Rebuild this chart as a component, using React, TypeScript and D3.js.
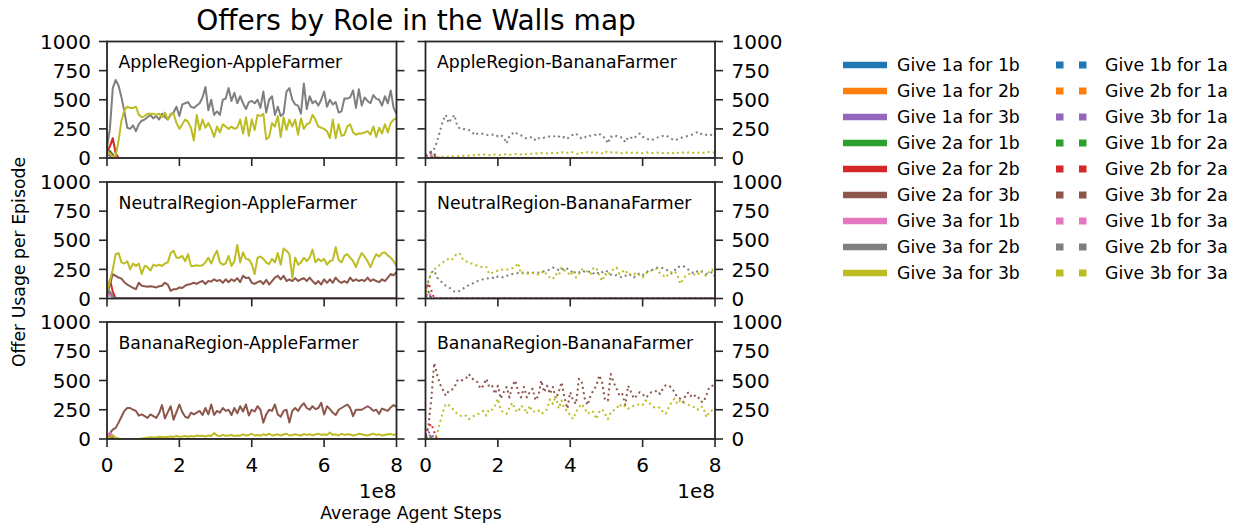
import React from "react";
import * as d3 from "d3";

// ---------------- DATA ----------------
const N = 101;
const STEP = 8e6;
const agentSteps = d3.range(N).map((i) => i * STEP);

const xTicks = [0, 2e8, 4e8, 6e8, 8e8];
const xTickLabels = ["0", "2", "4", "6", "8"];
const yTicks = [0, 250, 500, 750, 1000];

const solidNames = [
  "Give 1a for 1b", "Give 1a for 2b", "Give 1a for 3b",
  "Give 2a for 1b", "Give 2a for 2b", "Give 2a for 3b",
  "Give 3a for 1b", "Give 3a for 2b", "Give 3a for 3b",
];
const dottedNames = [
  "Give 1b for 1a", "Give 2b for 1a", "Give 3b for 1a",
  "Give 1b for 2a", "Give 2b for 2a", "Give 3b for 2a",
  "Give 1b for 3a", "Give 2b for 3a", "Give 3b for 3a",
];
const colors = ["#1f77b4", "#ff7f0e", "#9467bd", "#2ca02c", "#d62728", "#8c564b", "#e377c2", "#7f7f7f", "#bcbd22"];

// AppleRegion-AppleFarmer
const aaGive3aFor2b = [90, 250, 600, 670, 620, 520, 400, 260, 250, 280, 230, 290, 320, 330, 350, 370, 340, 360, 330, 380, 350, 330, 370, 390, 440, 360, 460, 470, 480, 440, 430, 450, 470, 520, 610, 410, 500, 370, 400, 370, 500, 510, 600, 490, 560, 470, 530, 470, 420, 480, 490, 470, 500, 430, 570, 390, 500, 530, 370, 440, 360, 380, 570, 600, 500, 460, 450, 380, 640, 420, 530, 470, 490, 450, 500, 570, 440, 500, 460, 480, 390, 400, 510, 510, 520, 580, 430, 590, 450, 520, 490, 470, 540, 510, 500, 450, 530, 470, 580, 430, 380];
const aaGive3aFor3b = [50, 40, 10, 20, 150, 320, 410, 440, 430, 430, 440, 370, 350, 360, 380, 380, 380, 370, 380, 350, 390, 330, 380, 380, 300, 250, 290, 330, 310, 260, 150, 370, 240, 330, 260, 300, 250, 180, 270, 220, 290, 270, 250, 270, 250, 260, 330, 210, 350, 190, 330, 240, 370, 360, 380, 160, 180, 300, 270, 360, 180, 350, 240, 330, 270, 330, 200, 340, 250, 290, 300, 370, 330, 270, 260, 250, 230, 170, 330, 170, 290, 190, 200, 270, 290, 220, 200, 210, 210, 220, 230, 200, 270, 180, 260, 210, 290, 220, 300, 330, 340];
const aaGive1aFor1b = [30, 20, 0];
const aaGive1aFor2b = [40, 30, 10, 0];
const aaGive1aFor3b = [50, 40, 20, 0];
const aaGive2aFor1b = [80, 60, 30, 0];
const aaGive2aFor2b = [60, 100, 170, 40, 0];
const aaGive2aFor3b = [40, 50, 20, 0];
const aaGive3aFor1b = [50, 30, 10, 0];

// AppleRegion-BananaFarmer
const abGive2bFor3a = [20, 30, 40, 80, 140, 230, 320, 370, 300, 340, 370, 270, 250, 250, 250, 240, 225, 195, 210, 205, 210, 200, 195, 200, 205, 185, 195, 180, 125, 190, 210, 225, 200, 195, 180, 165, 175, 180, 150, 170, 165, 175, 180, 185, 180, 195, 185, 170, 180, 165, 190, 200, 210, 185, 165, 175, 195, 190, 195, 200, 210, 180, 175, 125, 185, 175, 190, 180, 175, 135, 180, 175, 165, 195, 210, 180, 175, 160, 150, 165, 175, 180, 190, 195, 180, 165, 150, 160, 170, 180, 185, 195, 200, 210, 225, 210, 195, 200, 205, 195, 200];
const abGive3bFor3a = [0, 0, 0, 0, 5, 8, 10, 12, 10, 15, 12, 15, 18, 20, 15, 22, 20, 25, 30, 25, 28, 30, 25, 22, 30, 28, 25, 30, 32, 28, 30, 35, 32, 30, 35, 32, 38, 35, 40, 35, 42, 38, 40, 45, 42, 48, 40, 50, 42, 45, 55, 48, 40, 30, 45, 40, 50, 42, 55, 45, 48, 40, 60, 45, 50, 42, 48, 45, 40, 50, 45, 42, 50, 45, 48, 40, 45, 50, 42, 40, 45, 50, 42, 45, 40, 48, 35, 45, 42, 48, 40, 50, 45, 42, 48, 40, 45, 55, 50, 45, 50];
const abGive1bFor1a = [10, 20, 15, 5, 0];
const abGive2bFor1a = [10, 25, 20, 5, 0];
const abGive3bFor1a = [20, 45, 55, 30, 5, 0];
const abGive1bFor2a = [10, 20, 15, 0];
const abGive2bFor2a = [10, 30, 40, 20, 0];
const abGive3bFor2a = [15, 35, 50, 35, 10, 0];
const abGive1bFor3a = [10, 25, 20, 5, 0];

// NeutralRegion-AppleFarmer
const naGive3aFor3b = [60, 150, 250, 380, 390, 310, 300, 320, 250, 300, 280, 300, 210, 280, 270, 240, 290, 280, 290, 280, 300, 310, 390, 410, 350, 350, 365, 320, 380, 280, 280, 285, 280, 285, 310, 350, 300, 365, 410, 310, 290, 300, 365, 280, 320, 460, 310, 395, 340, 335, 295, 210, 350, 360, 340, 310, 295, 340, 310, 390, 290, 430, 410, 380, 180, 350, 290, 310, 350, 320, 350, 420, 310, 340, 320, 340, 290, 320, 330, 440, 330, 310, 365, 380, 350, 320, 270, 340, 390, 360, 320, 270, 330, 380, 360, 390, 395, 370, 350, 320, 280];
const naGive2aFor3b = [30, 120, 210, 195, 180, 170, 140, 120, 105, 90, 80, 135, 110, 105, 100, 105, 100, 95, 105, 110, 135, 120, 66, 80, 80, 95, 90, 110, 120, 125, 135, 125, 140, 150, 125, 150, 145, 165, 150, 160, 135, 165, 140, 165, 150, 175, 140, 195, 175, 180, 135, 125, 140, 150, 125, 160, 120, 150, 180, 195, 165, 195, 150, 165, 150, 175, 150, 165, 175, 150, 180, 150, 125, 150, 120, 165, 135, 165, 135, 180, 150, 135, 150, 135, 180, 150, 165, 150, 160, 150, 180, 150, 165, 150, 140, 165, 150, 180, 210, 200, 225];
const naGive1aFor1b = [20, 30, 10, 0];
const naGive1aFor2b = [30, 40, 10, 0];
const naGive1aFor3b = [60, 40, 10, 0];
const naGive2aFor1b = [30, 50, 20, 0];
const naGive2aFor2b = [40, 160, 60, 0];
const naGive3aFor1b = [40, 30, 10, 0];
const naGive3aFor2b = [80, 60, 20, 0];

// NeutralRegion-BananaFarmer
const nbGive3bFor3a = [40, 150, 220, 250, 270, 290, 310, 330, 340, 330, 360, 390, 380, 330, 320, 305, 300, 290, 280, 275, 265, 270, 210, 220, 230, 240, 250, 245, 250, 250, 260, 270, 305, 210, 220, 215, 208, 220, 215, 205, 220, 237, 200, 180, 165, 210, 195, 266, 240, 230, 195, 240, 180, 210, 250, 245, 230, 210, 260, 265, 200, 150, 210, 195, 240, 250, 266, 210, 230, 245, 200, 215, 210, 220, 200, 180, 215, 230, 240, 250, 255, 215, 200, 180, 215, 225, 237, 200, 125, 165, 200, 210, 215, 205, 200, 240, 210, 195, 230, 250, 180];
const nbGive2bFor3a = [50, 150, 220, 240, 180, 155, 130, 110, 95, 80, 60, 55, 70, 85, 105, 115, 125, 140, 150, 160, 165, 170, 175, 180, 170, 190, 185, 180, 195, 200, 210, 215, 220, 225, 220, 222, 225, 220, 225, 222, 225, 235, 240, 250, 265, 255, 245, 240, 265, 255, 245, 210, 235, 225, 240, 230, 225, 235, 215, 230, 210, 225, 240, 230, 205, 195, 200, 190, 180, 195, 210, 200, 180, 205, 215, 200, 220, 235, 240, 255, 265, 270, 260, 250, 235, 215, 240, 270, 275, 280, 260, 245, 225, 215, 235, 240, 225, 210, 215, 225, 220];
const nbGive1bFor1a = [10, 20, 0];
const nbGive2bFor1a = [20, 40, 10, 0];
const nbGive3bFor1a = [30, 50, 20, 0];
const nbGive1bFor2a = [20, 60, 0];
const nbGive2bFor2a = [60, 130, 70, 0];
const nbGive3bFor2a = [30, 40, 10, 0];
const nbGive1bFor3a = [30, 50, 20, 0];

// BananaRegion-AppleFarmer
const baGive2aFor3b = [10, 50, 80, 95, 140, 190, 240, 265, 265, 250, 240, 200, 210, 195, 180, 210, 195, 180, 220, 290, 175, 230, 280, 165, 230, 295, 230, 190, 180, 225, 210, 225, 240, 205, 265, 210, 295, 205, 240, 225, 265, 240, 250, 205, 265, 220, 280, 235, 295, 200, 250, 235, 280, 250, 140, 210, 250, 240, 295, 210, 190, 240, 250, 140, 240, 265, 240, 280, 305, 265, 250, 280, 255, 265, 310, 210, 280, 255, 225, 205, 250, 265, 280, 295, 265, 195, 250, 250, 250, 265, 280, 265, 240, 250, 215, 260, 250, 240, 270, 290, 275];
const baGive3aFor3b = [10, 20, 30, 10, 5, 0, 0, 0, 0, 0, 0, 0, 5, 8, 10, 15, 12, 15, 20, 18, 15, 20, 22, 18, 25, 20, 22, 25, 20, 25, 22, 30, 25, 28, 22, 30, 25, 50, 30, 25, 35, 28, 30, 35, 25, 30, 28, 40, 30, 35, 45, 30, 35, 28, 40, 32, 45, 30, 35, 40, 30, 38, 45, 30, 35, 40, 35, 30, 42, 35, 40, 32, 38, 45, 35, 40, 35, 55, 35, 40, 30, 45, 35, 40, 38, 30, 35, 45, 40, 35, 30, 38, 45, 35, 40, 30, 35, 40, 42, 35, 40];
const baGive1aFor1b = [10, 20, 10, 0];
const baGive1aFor2b = [10, 30, 20, 0];
const baGive1aFor3b = [15, 45, 25, 0];
const baGive2aFor1b = [10, 20, 10, 0];
const baGive2aFor2b = [10, 25, 10, 0];
const baGive3aFor1b = [20, 50, 30, 0];
const baGive3aFor2b = [10, 15, 5, 0];

// BananaRegion-BananaFarmer
const bbGive3bFor2a = [30, 110, 340, 650, 550, 470, 420, 370, 410, 420, 440, 500, 490, 510, 520, 555, 520, 500, 485, 430, 455, 515, 445, 455, 385, 455, 345, 400, 445, 355, 455, 500, 400, 355, 445, 355, 400, 430, 330, 370, 500, 400, 455, 385, 445, 345, 400, 485, 355, 260, 400, 330, 300, 515, 485, 345, 290, 370, 415, 455, 545, 485, 330, 330, 555, 485, 430, 370, 385, 290, 455, 400, 345, 370, 400, 385, 355, 370, 400, 400, 415, 385, 430, 460, 455, 440, 400, 355, 345, 315, 385, 400, 355, 370, 370, 320, 315, 370, 440, 455, 460];
const bbGive3bFor3a = [0, 0, 0, 10, 40, 140, 230, 300, 290, 270, 240, 215, 200, 190, 200, 170, 190, 200, 210, 225, 240, 200, 255, 250, 285, 345, 245, 230, 215, 270, 310, 250, 230, 285, 270, 215, 285, 230, 240, 245, 215, 230, 255, 340, 300, 370, 260, 330, 255, 245, 200, 170, 230, 270, 300, 260, 215, 240, 230, 170, 230, 255, 215, 170, 230, 245, 260, 300, 270, 285, 260, 270, 285, 290, 300, 290, 330, 315, 290, 270, 265, 270, 230, 215, 270, 315, 345, 300, 330, 315, 300, 290, 280, 270, 250, 280, 270, 185, 230, 245, 220];
const bbGive1bFor1a = [10, 20, 10, 0];
const bbGive2bFor1a = [20, 40, 20, 0];
const bbGive3bFor1a = [20, 60, 40, 10, 0];
const bbGive1bFor2a = [10, 30, 10, 0];
const bbGive2bFor2a = [30, 100, 130, 60, 0];
const bbGive1bFor3a = [10, 40, 20, 0];
const bbGive2bFor3a = [10, 30, 20, 0];

// ---------------- HELPERS ----------------
// Short arrays hold the early part of a series; the rest of the series is 0.
const full = (a: number[]) => a.concat(new Array(Math.max(0, N - a.length)).fill(0));

const panels = [
  { title: "AppleRegion-AppleFarmer", row: 0, col: 0, dotted: false,
    series: [aaGive1aFor1b, aaGive1aFor2b, aaGive1aFor3b, aaGive2aFor1b, aaGive2aFor2b, aaGive2aFor3b, aaGive3aFor1b, aaGive3aFor2b, aaGive3aFor3b] },
  { title: "AppleRegion-BananaFarmer", row: 0, col: 1, dotted: true,
    series: [abGive1bFor1a, abGive2bFor1a, abGive3bFor1a, abGive1bFor2a, abGive2bFor2a, abGive3bFor2a, abGive1bFor3a, abGive2bFor3a, abGive3bFor3a] },
  { title: "NeutralRegion-AppleFarmer", row: 1, col: 0, dotted: false,
    series: [naGive1aFor1b, naGive1aFor2b, naGive1aFor3b, naGive2aFor1b, naGive2aFor2b, naGive2aFor3b, naGive3aFor1b, naGive3aFor2b, naGive3aFor3b] },
  { title: "NeutralRegion-BananaFarmer", row: 1, col: 1, dotted: true,
    series: [nbGive1bFor1a, nbGive2bFor1a, nbGive3bFor1a, nbGive1bFor2a, nbGive2bFor2a, nbGive3bFor2a, nbGive1bFor3a, nbGive2bFor3a, nbGive3bFor3a] },
  { title: "BananaRegion-AppleFarmer", row: 2, col: 0, dotted: false,
    series: [baGive1aFor1b, baGive1aFor2b, baGive1aFor3b, baGive2aFor1b, baGive2aFor2b, baGive2aFor3b, baGive3aFor1b, baGive3aFor2b, baGive3aFor3b] },
  { title: "BananaRegion-BananaFarmer", row: 2, col: 1, dotted: true,
    series: [bbGive1bFor1a, bbGive2bFor1a, bbGive3bFor1a, bbGive1bFor2a, bbGive2bFor2a, bbGive3bFor2a, bbGive1bFor3a, bbGive2bFor3a, bbGive3bFor3a] },
];

// ---------------- LAYOUT ----------------
const W = 1240, H = 528;
const colLeft = [107, 425.5];
const colRight = [396.5, 715];
const rowTop = [41.5, 182, 322];
const rowBottom = [158, 298.5, 439];
const FONT = "DejaVu Sans";
const INK = "#262626";
const TICK = 8;

function Panel({ p, idx }: { p: typeof panels[number]; idx: number }) {
  const x = d3.scaleLinear().domain([0, 8e8]).range([colLeft[p.col], colRight[p.col]]);
  const y = d3.scaleLinear().domain([0, 1000]).range([rowBottom[p.row], rowTop[p.row]]);
  const line = d3.line<number>().x((_, i) => x(agentSteps[i])).y((d) => y(d));
  const clipId = `clip${idx}`;
  const x0 = colLeft[p.col], x1 = colRight[p.col], y0 = rowTop[p.row], y1 = rowBottom[p.row];
  const isBottom = p.row === 2;
  return (
    <g>
      <defs>
        <clipPath id={clipId}>
          <rect x={x0} y={y0} width={x1 - x0} height={y1 - y0} />
        </clipPath>
      </defs>
      <g clipPath={`url(#${clipId})`}>
        {p.series.map((s, k) => (
          <path
            key={k}
            d={line(full(s)) || ""}
            fill="none"
            stroke={colors[k]}
            strokeWidth={2}
            strokeDasharray={p.dotted ? "2 3.3" : undefined}
            strokeLinejoin="round"
          />
        ))}
      </g>
      <text x={x0 + 11.5} y={y0 + 26.8} fontSize={17.3} fill="#000" fontFamily={FONT}>{p.title}</text>
      <rect x={x0} y={y0} width={x1 - x0} height={y1 - y0} fill="none" stroke={INK} strokeWidth={1.8} />
      {yTicks.map((t) => (
        <g key={"y" + t}>
          <line x1={x0 - TICK} x2={x0} y1={y(t)} y2={y(t)} stroke={INK} strokeWidth={1.6} />
          <line x1={x1} x2={x1 + TICK} y1={y(t)} y2={y(t)} stroke={INK} strokeWidth={1.6} />
          {p.col === 0 ? (
            <text x={x0 - 16} y={y(t)} dy="0.36em" textAnchor="end" fontSize={20} fill="#000" fontFamily={FONT}>{t}</text>
          ) : (
            <text x={x1 + 16.5} y={y(t)} dy="0.36em" textAnchor="start" fontSize={20} fill="#000" fontFamily={FONT}>{t}</text>
          )}
        </g>
      ))}
      {xTicks.map((t, k) => (
        <g key={"x" + t}>
          <line x1={x(t)} x2={x(t)} y1={y1} y2={y1 + TICK} stroke={INK} strokeWidth={1.6} />
          {isBottom && (
            <text x={x(t)} y={y1 + 33} textAnchor="middle" fontSize={20} fill="#000" fontFamily={FONT}>{xTickLabels[k]}</text>
          )}
        </g>
      ))}
      {isBottom && (
        <text x={x1} y={y1 + 59} textAnchor="end" fontSize={20} fill="#000" fontFamily={FONT}>1e8</text>
      )}
    </g>
  );
}

function Legend() {
  const rowY = (i: number) => 65 + i * 26;
  return (
    <g fontFamily={FONT} fontSize={17.3} fill="#000">
      {solidNames.map((n, i) => (
        <g key={n}>
          <line x1={843} x2={887} y1={rowY(i)} y2={rowY(i)} stroke={colors[i]} strokeWidth={6.5} />
          <text x={897} y={rowY(i)} dy="0.36em">{n}</text>
        </g>
      ))}
      {dottedNames.map((n, i) => (
        <g key={n}>
          <line x1={1056} x2={1088} y1={rowY(i)} y2={rowY(i)} stroke={colors[i]} strokeWidth={7} strokeDasharray="7.5 15.5" />
          <text x={1105} y={rowY(i)} dy="0.36em">{n}</text>
        </g>
      ))}
    </g>
  );
}

export default function App() {
  return (
    <svg width={W} height={H} style={{ position: "absolute", left: 0, top: 0, background: "#fff" }}>
      <rect x={0} y={0} width={W} height={H} fill="#fff" />
      <text x={416} y={30} textAnchor="middle" fontSize={28} fontFamily={FONT} fill="#000">Offers by Role in the Walls map</text>
      {panels.map((p, i) => (
        <Panel key={p.title} p={p} idx={i} />
      ))}
      <text transform="translate(25,262) rotate(-90)" textAnchor="middle" fontSize={17.3} fontFamily={FONT} fill="#000">Offer Usage per Episode</text>
      <text x={411} y={519} textAnchor="middle" fontSize={17.3} fontFamily={FONT} fill="#000">Average Agent Steps</text>
      <Legend />
    </svg>
  );
}
